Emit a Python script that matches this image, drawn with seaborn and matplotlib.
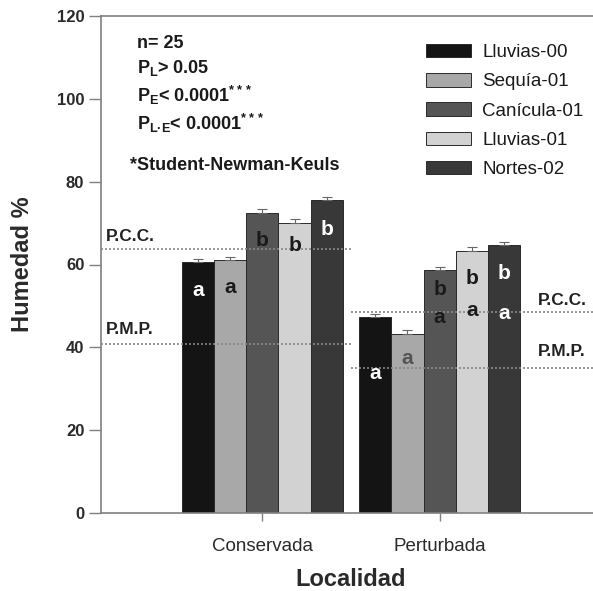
import matplotlib
matplotlib.use("Agg")
import matplotlib.pyplot as plt
import seaborn as sns
import pandas as pd
from matplotlib.patches import Patch

# ---- data ----
localidades = ["Conservada", "Perturbada"]
epocas = ["Lluvias-00", "Sequía-01", "Canícula-01", "Lluvias-01", "Nortes-02"]
humedad_conservada = [60.5, 61.1, 72.5, 70.0, 75.5]
humedad_perturbada = [47.4, 43.2, 58.7, 63.3, 64.7]
err_conservada = [0.8, 0.8, 0.9, 0.9, 0.8]
err_perturbada = [0.6, 0.9, 0.8, 0.9, 0.7]
letras_conservada = ["a", "a", "b", "b", "b"]
letras_perturbada_sup = ["", "", "b", "b", "b"]
letras_perturbada_inf = ["a", "a", "a", "a", "a"]
colores = ["#141414", "#a8a8a8", "#555555", "#d2d2d2", "#383838"]
pcc = [63.8, 48.5]
pmp = [40.8, 35.1]
yticks = [0, 20, 40, 60, 80, 100, 120]

rows = []
for i, e in enumerate(epocas):
    rows.append({"Localidad": localidades[0], "Epoca": e, "Humedad": humedad_conservada[i]})
    rows.append({"Localidad": localidades[1], "Epoca": e, "Humedad": humedad_perturbada[i]})
df = pd.DataFrame(rows)

sns.set_style("white")
plt.rcParams["font.family"] = ["Liberation Sans", "DejaVu Sans"]
plt.rcParams["mathtext.fontset"] = "custom"
plt.rcParams["mathtext.rm"] = "Liberation Sans:bold"
plt.rcParams["mathtext.default"] = "rm"

W, H = 593, 591
fig = plt.figure(figsize=(W / 100, H / 100), dpi=100)
fig.patch.set_facecolor("white")
ax = fig.add_axes([101 / W, (H - 513) / H, 500 / W, 497 / H])

sns.barplot(data=df, x="Localidad", y="Humedad", hue="Epoca", order=localidades,
            hue_order=epocas, palette=colores, width=0.91, errorbar=None,
            edgecolor="#2a2a2a", linewidth=0.7, legend=False, ax=ax, zorder=2)

ax.set_xlim(-0.91, 1.91)
ax.set_ylim(0, 120)

# error bars and letters from patch positions
bars = [p for p in ax.patches]
errs = []
for i in range(len(epocas)):
    errs.append([err_conservada[i], err_perturbada[i]])
letter_colors_c = ["white", "#1a1a1a", "#1a1a1a", "#1a1a1a", "white"]
letter_colors_p = ["white", "#555555", "#1a1a1a", "#1a1a1a", "white"]
ycons = [53.8, 54.5, 65.7, 64.7, 68.4]
ypert_sup = [0, 0, 53.9, 56.6, 57.8]
ypert_inf = [33.8, 37.4, 47.2, 48.8, 48.1]
for i in range(len(epocas)):
    for j in range(len(localidades)):
        p = bars[i * len(localidades) + j]
        cx = p.get_x() + p.get_width() / 2
        top = p.get_height()
        ax.errorbar(cx, top, yerr=[[0], [errs[i][j]]], fmt="none", ecolor="#666666",
                    elinewidth=0.8, capsize=3.5, capthick=0.8, zorder=3)
        if j == 0:
            ax.text(cx, ycons[i], letras_conservada[i], ha="center", va="center",
                    fontsize=15, fontweight="bold", color=letter_colors_c[i], zorder=5)
        else:
            if letras_perturbada_sup[i]:
                ax.text(cx, ypert_sup[i], letras_perturbada_sup[i], ha="center", va="center",
                        fontsize=15, fontweight="bold", color=letter_colors_p[i], zorder=5)
            ax.text(cx, ypert_inf[i], letras_perturbada_inf[i], ha="center", va="center",
                    fontsize=15, fontweight="bold", color=letter_colors_p[i], zorder=5)

# reference lines
ax.hlines([pcc[0], pmp[0]], -0.91, 0.5, colors="#888888", linestyles=(0, (1.2, 1.2)),
          linewidth=1.2, zorder=4)
ax.hlines([pcc[1], pmp[1]], 0.5, 1.91, colors="#888888", linestyles=(0, (1.2, 1.2)),
          linewidth=1.2, zorder=4)
ax.text(-0.885, pcc[0] + 3.0, "P.C.C.", fontsize=12.5, fontweight="bold", color="#222222",
        va="center", ha="left")
ax.text(-0.885, pmp[0] + 3.4, "P.M.P.", fontsize=12.5, fontweight="bold", color="#222222",
        va="center", ha="left")
ax.text(1.555, pcc[1] + 2.9, "P.C.C.", fontsize=12.5, fontweight="bold", color="#222222",
        va="center", ha="left")
ax.text(1.555, pmp[1] + 3.8, "P.M.P.", fontsize=12.5, fontweight="bold", color="#222222",
        va="center", ha="left")

# axes styling
for s in ["left", "bottom", "top", "right"]:
    ax.spines[s].set_color("#808080")
    ax.spines[s].set_linewidth(1.2)
ax.set_yticks(yticks)
ax.set_yticklabels([str(t) for t in yticks], fontsize=12, fontweight="bold", color="#2a2a2a")
ax.tick_params(axis="y", direction="out", length=9, width=1.0, color="#808080", left=True, pad=3)
ax.tick_params(axis="x", direction="out", length=6, width=1.0, color="#808080", bottom=True, pad=12)
for lab in ax.get_xticklabels():
    lab.set_fontsize(13.5)
    lab.set_color("#2a2a2a")
ax.set_xlabel("Localidad", fontsize=17, fontweight="bold", color="#2a2a2a", labelpad=9)
ax.set_ylabel("Humedad %", fontsize=17, fontweight="bold", color="#2a2a2a", labelpad=16)

# statistics text block
def ftext(x, y, s, **kw):
    fig.text(x / W, 1 - y / H, s, fontsize=13, fontweight="bold", color="#1a1a1a",
             va="center", ha="left", **kw)

ftext(137, 43, "n= 25")
ftext(137, 68, r"P$_{\mathregular{L}}$> 0.05")
ftext(137, 95, r"P$_{\mathregular{E}}$< 0.0001$^{\mathregular{***}}$")
ftext(137, 123, r"P$_{\mathregular{L·E}}$< 0.0001$^{\mathregular{***}}$")
ftext(130, 165, "*Student-Newman-Keuls")

# legend
handles = [Patch(facecolor=c, edgecolor="#2a2a2a", linewidth=0.7) for c in colores]
leg = fig.legend(handles, epocas, loc="upper left",
                 bbox_to_anchor=(426 / W, 1 - 44 / H), bbox_transform=fig.transFigure,
                 frameon=False, fontsize=13.5, handlelength=2.4, handleheight=0.72,
                 handletextpad=0.6, labelspacing=0.64, borderpad=0, borderaxespad=0)
for t in leg.get_texts():
    t.set_color("#1a1a1a")

fig.savefig("out.png", dpi=100, facecolor="white")
